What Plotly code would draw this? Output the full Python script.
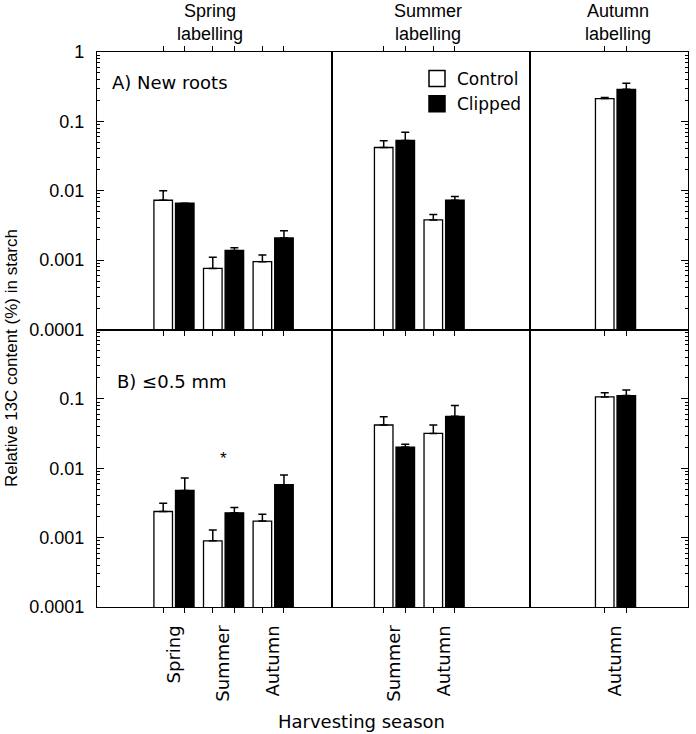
import plotly.graph_objects as go
from plotly.subplots import make_subplots
import math

# ---------------- data ----------------
labelling_seasons = ["Spring", "Summer", "Autumn"]
harvest_spring_lab = ["Spring", "Summer", "Autumn"]
harvest_summer_lab = ["Summer", "Autumn"]
harvest_autumn_lab = ["Autumn"]

# A) New roots  (mean, upper SE)
A_spring_ctrl = [0.0073, 0.00076, 0.00095]
A_spring_ctrl_se = [0.0027, 0.00034, 0.00024]
A_spring_clip = [0.0066, 0.00138, 0.00209]
A_spring_clip_se = [0.0, 0.00013, 0.00057]
A_summer_ctrl = [0.042, 0.0038]
A_summer_ctrl_se = [0.0104, 0.00076]
A_summer_clip = [0.053, 0.0073]
A_summer_clip_se = [0.0169, 0.00098]
A_autumn_ctrl = [0.213]
A_autumn_ctrl_se = [0.007]
A_autumn_clip = [0.290]
A_autumn_clip_se = [0.064]

# B) <=0.5 mm
B_spring_ctrl = [0.00238, 0.0009, 0.00173]
B_spring_ctrl_se = [0.00076, 0.00039, 0.00045]
B_spring_clip = [0.00478, 0.00228, 0.00578]
B_spring_clip_se = [0.00244, 0.00044, 0.00219]
B_summer_ctrl = [0.042, 0.0318]
B_summer_ctrl_se = [0.0134, 0.0102]
B_summer_clip = [0.0202, 0.0561]
B_summer_clip_se = [0.0019, 0.0239]
B_autumn_ctrl = [0.1067]
B_autumn_ctrl_se = [0.0163]
B_autumn_clip = [0.1114]
B_autumn_clip_se = [0.0232]

y_tick_vals_top = [0.0001, 0.001, 0.01, 0.1, 1]
y_tick_text_top = ["0.0001", "0.001", "0.01", "0.1", "1"]
y_tick_vals_bot = [0.0001, 0.001, 0.01, 0.1]
y_tick_text_bot = ["0.0001", "0.001", "0.01", "0.1"]
y_minor_vals = [k * 10.0 ** e for e in range(-4, 0) for k in range(2, 10)]

# ---------------- figure ----------------
FONT = "Liberation Sans, Arial, Helvetica, sans-serif"
WFONT = "DejaVu Sans, Liberation Sans, Arial, sans-serif"
FS = 17

fig = make_subplots(rows=2, cols=3, column_widths=[235, 198, 158],
                    horizontal_spacing=0, vertical_spacing=0)

panels = [
    (1, 1, harvest_spring_lab, A_spring_ctrl, A_spring_ctrl_se, A_spring_clip, A_spring_clip_se),
    (1, 2, harvest_summer_lab, A_summer_ctrl, A_summer_ctrl_se, A_summer_clip, A_summer_clip_se),
    (1, 3, harvest_autumn_lab, A_autumn_ctrl, A_autumn_ctrl_se, A_autumn_clip, A_autumn_clip_se),
    (2, 1, harvest_spring_lab, B_spring_ctrl, B_spring_ctrl_se, B_spring_clip, B_spring_clip_se),
    (2, 2, harvest_summer_lab, B_summer_ctrl, B_summer_ctrl_se, B_summer_clip, B_summer_clip_se),
    (2, 3, harvest_autumn_lab, B_autumn_ctrl, B_autumn_ctrl_se, B_autumn_clip, B_autumn_clip_se),
]

x_ranges = {1: [-0.552, 4.186], 2: [-0.26, 3.732], 3: [-0.724, 2.461]}
BAR_OFF = 0.215

for (r, c, cats, ctrl, ctrl_se, clip, clip_se) in panels:
    pos = list(range(1, len(cats) + 1))
    for vals, se, fill, name in [(ctrl, ctrl_se, "white", "Control"),
                                 (clip, clip_se, "black", "Clipped")]:
        fig.add_trace(go.Bar(
            x=pos, y=vals, name=name, showlegend=False,
            marker=dict(color=fill, line=dict(color="black", width=1.3)),
            error_y=dict(type="data", array=se, arrayminus=[0] * len(se),
                         symmetric=False, color="black", thickness=1.5, width=4,
                         visible=True),
        ), row=r, col=c)
    minor_vals = []
    for p in pos:
        minor_vals += [p - BAR_OFF, p + BAR_OFF]
    xa = dict(range=x_ranges[c], showline=True, linecolor="black", linewidth=1.3,
              showgrid=False, zeroline=False, automargin=False,
              tickvals=pos, ticktext=cats if r == 2 else None,
              showticklabels=(r == 2), tickangle=-90,
              ticks="outside", ticklen=10, tickcolor="rgba(0,0,0,0)",
              minor=dict(tickvals=minor_vals, ticks="outside", ticklen=5,
                         tickcolor="black", tickwidth=1.2, showgrid=False),
              mirror=("ticks" if r == 1 else True),
              tickfont=dict(family=WFONT, size=18, color="black"))
    fig.update_xaxes(xa, row=r, col=c)

    ya = dict(type="log", range=[-4, 0], showline=True, linecolor="black", linewidth=1.3,
              showgrid=False, zeroline=False, mirror=True, automargin=False,
              tickfont=dict(family=FONT, size=18, color="black"))
    if c == 1:
        ya.update(tickvals=(y_tick_vals_top if r == 1 else y_tick_vals_bot),
                  ticktext=(y_tick_text_top if r == 1 else y_tick_text_bot),
                  ticks="inside", ticklen=7, tickwidth=1.2, tickcolor="black",
                  ticklabelstandoff=8,
                  minor=dict(tickvals=y_minor_vals, ticks="inside", ticklen=3,
                             tickwidth=1, tickcolor="black", showgrid=False))
    elif c == 3:
        ya.update(side="right", tickvals=y_tick_vals_top, showticklabels=False,
                  ticks="inside", ticklen=7, tickwidth=1.2, tickcolor="black",
                  minor=dict(tickvals=y_minor_vals, ticks="inside", ticklen=3,
                             tickwidth=1, tickcolor="black", showgrid=False))
    else:
        ya.update(ticks="", showticklabels=False)
    fig.update_yaxes(ya, row=r, col=c)

# legend entries
for name, fill in [("Control", "white"), ("Clipped", "black")]:
    fig.add_trace(go.Scatter(x=[None], y=[None], mode="markers", name=name,
                             marker=dict(symbol="square", size=16, color=fill,
                                         line=dict(color="black", width=1.5)),
                             showlegend=True), row=1, col=2)

L, R, T, B = 97, 8, 52, 127
W, H = 696, 734
pw, ph = W - L - R, H - T - B

def px_x(x):
    return (x - L) / pw

def px_y(y):
    return (H - B - y) / ph

annots = [
    dict(text="Spring<br>labelling", x=px_x(210), y=px_y(22)),
    dict(text="Summer<br>labelling", x=px_x(428), y=px_y(22)),
    dict(text="Autumn<br>labelling", x=px_x(618), y=px_y(22)),
]
for a in annots:
    fig.add_annotation(xref="paper", yref="paper", showarrow=False,
                       xanchor="center", yanchor="middle",
                       font=dict(family=FONT, size=18, color="black"), **a)

fig.add_annotation(xref="paper", yref="paper", x=px_x(110), y=px_y(82),
                   text="A) New roots", showarrow=False, xanchor="left", yanchor="middle",
                   font=dict(family=WFONT, size=18, color="black"))
fig.add_annotation(xref="paper", yref="paper", x=px_x(115), y=px_y(382),
                   text="B) \u22640.5 mm", showarrow=False, xanchor="left", yanchor="middle",
                   font=dict(family=WFONT, size=18, color="black"))
fig.add_annotation(xref="paper", yref="paper", x=px_x(12), y=px_y(358),
                   text="Relative 13C content (%) in starch", textangle=-90,
                   showarrow=False, xanchor="center", yanchor="middle",
                   font=dict(family=FONT, size=FS, color="black"))
fig.add_annotation(xref="paper", yref="paper", x=px_x(361), y=px_y(721),
                   text="Harvesting season", showarrow=False,
                   xanchor="center", yanchor="middle",
                   font=dict(family=WFONT, size=18, color="black"))
# significance asterisk (summer harvest, B panel, spring labelling)
fig.add_annotation(xref="x4", yref="y4", x=2, y=math.log10(0.0137), text="*",
                   showarrow=False, xanchor="center", yanchor="middle",
                   font=dict(family=FONT, size=FS, color="black"))

fig.update_layout(
    width=W, height=H,
    margin=dict(l=L, r=R, t=T, b=B, autoexpand=False),
    paper_bgcolor="white", plot_bgcolor="white",
    barmode="group", bargap=0.13, bargroupgap=0.14,
    showlegend=True,
    legend=dict(x=px_x(417), y=px_y(61), xanchor="left", yanchor="top",
                bgcolor="rgba(0,0,0,0)", font=dict(family=WFONT, size=FS, color="black"),
                tracegroupgap=0, itemwidth=30),
    font=dict(family=FONT, size=FS, color="black"),
)

fig.write_html("out.html", config={"displayModeBar": False},
               post_script="document.body.style.margin='0';")
